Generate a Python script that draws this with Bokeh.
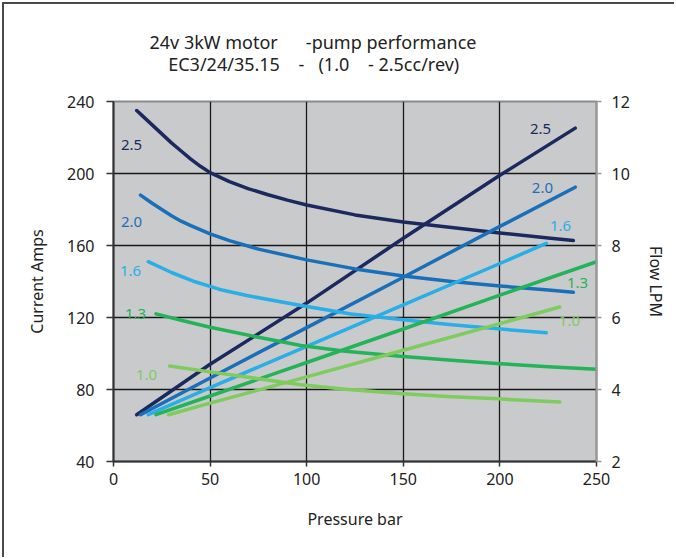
from bokeh.plotting import figure
from bokeh.models import Range1d, LinearAxis, FixedTicker, Label, Title
from bokeh.embed import file_html
from bokeh.resources import INLINE

FONT = "Noto Sans"

# ---- data ----
pressure_ticks = [0, 50, 100, 150, 200, 250]
amps_ticks = [40, 80, 120, 160, 200, 240]
flow_ticks = [2, 4, 6, 8, 10, 12]

# current draw (Amps) for each pump size
cur25_x = [12, 15, 20, 25, 30, 35, 40, 45, 50, 60, 70, 80, 90, 100, 125, 150, 175, 200, 225, 238]
cur25_y = [235, 232, 227, 222, 217, 212.5, 208, 204, 200.5, 195.5, 191.5, 188.2, 185.2, 182.5, 177, 173, 170, 167, 164.2, 162.8]
cur20_x = [14, 20, 25, 30, 35, 40, 50, 60, 75, 100, 125, 150, 175, 200, 225, 238]
cur20_y = [188, 183.5, 180, 176.5, 173.5, 171, 166.5, 162.7, 158, 152, 147, 143, 140, 137.5, 135.3, 134]
cur16_x = [18, 25, 30, 41, 55, 69, 97, 123, 150, 175, 199, 224]
cur16_y = [151, 147.5, 145, 140.3, 135.6, 132.2, 126.7, 122, 118.7, 116, 113.7, 111.5]
cur13_x = [22, 35, 50, 75, 97, 120, 150, 175, 200, 225, 250]
cur13_y = [122, 118.5, 114.6, 109, 104.4, 101.2, 98.3, 96.2, 94.3, 92.7, 91.3]
cur10_x = [29, 50, 75, 97, 120, 150, 175, 199, 231]
cur10_y = [93, 89.8, 86, 82.6, 80.2, 77.6, 76, 74.8, 73]

# flow (LPM) for each pump size
flow25_x = [12, 50, 100, 150, 200, 239]
flow25_y = [3.3, 4.7, 6.4, 8.2, 9.95, 11.26]
flow20_x = [14, 50, 100, 150, 200, 239]
flow20_y = [3.3, 4.32, 5.72, 7.12, 8.53, 9.62]
flow16_x = [18, 50, 100, 150, 200, 224]
flow16_y = [3.3, 4.05, 5.2, 6.35, 7.5, 8.06]
flow13_x = [22, 50, 100, 150, 200, 250]
flow13_y = [3.3, 3.82, 4.75, 5.68, 6.62, 7.55]
flow10_x = [28.5, 50, 100, 150, 200, 231]
flow10_y = [3.3, 3.62, 4.35, 5.09, 5.83, 6.29]

sizes = ["2.5", "2.0", "1.6", "1.3", "1.0"]
colors = ["#1b2a5e", "#1a70b8", "#29aee6", "#24b358", "#7ecb5e"]

# label positions (data coords, left/Amps scale)
lab_left_x = [9.3, 9.3, 8.8, 11.4, 17.1]
lab_left_y = [216, 173.3, 146.1, 121.7, 88.3]
lab_right_x = [221, 222, 231.4, 240.2, 236]
lab_right_y = [225, 191.7, 171.1, 138.9, 118.3]

NB = "\u00a0"
title1 = "24v 3kW motor" + NB * 5 + " -pump performance"
title2 = NB * 4 + "EC3/24/35.15" + NB * 3 + " -" + NB * 2 + " (1.0" + NB * 3 + " - 2.5cc/rev)"

# ---- figure ----
p = figure(width=672, height=555, output_backend="svg", toolbar_location=None,
           x_range=Range1d(0, 250), y_range=Range1d(40, 240),
           min_border_left=109, min_border_right=80,
           min_border_top=97, min_border_bottom=98)
p.styles = {"margin-left": "2px", "margin-top": "2px",
            "border-left": "2px solid #4a4a4a", "border-top": "2px solid #4a4a4a"}
p.background_fill_color = "#c9cacc"
p.border_fill_color = "white"
p.outline_line_color = "#8a8a8a"
p.outline_line_width = 2

p.extra_y_ranges = {"flow": Range1d(2, 12)}

# grid
p.xgrid.ticker = FixedTicker(ticks=[50, 100, 150, 200])
p.ygrid.ticker = FixedTicker(ticks=[80, 120, 160, 200])
for g in (p.xgrid, p.ygrid):
    g.grid_line_color = "#1a1a1a"
    g.grid_line_width = 1.3

# axes
p.xaxis.ticker = FixedTicker(ticks=pressure_ticks)
p.yaxis.ticker = FixedTicker(ticks=amps_ticks)
p.xaxis.axis_label = "Pressure bar"
p.yaxis.axis_label = "Current Amps"

right = LinearAxis(y_range_name="flow", ticker=FixedTicker(ticks=flow_ticks),
                   axis_label="Flow LPM")
p.add_layout(right, "right")

for ax in (p.xaxis[0], p.yaxis[0], right):
    ax.major_label_text_font = FONT
    ax.major_label_text_font_size = "16px"
    ax.major_label_text_color = "#222222"
    ax.axis_label_text_font = FONT
    ax.axis_label_text_font_size = "16px"
    ax.axis_label_text_font_style = "normal"
    ax.axis_label_text_color = "#222222"
    ax.minor_tick_line_color = None
    ax.major_tick_in = 0

p.xaxis.axis_line_color = "#333333"
p.xaxis.axis_line_width = 2
p.xaxis.major_tick_line_color = "#333333"
p.xaxis.major_tick_line_width = 1.5
p.xaxis.major_tick_out = 5
p.xaxis.major_label_standoff = 6
p.xaxis.axis_label_standoff = 20

p.yaxis.axis_line_color = "#333333"
p.yaxis.axis_line_width = 2
p.yaxis.major_tick_line_color = "#333333"
p.yaxis.major_tick_line_width = 1.5
p.yaxis.major_tick_out = 7
p.yaxis.major_label_standoff = 12
p.yaxis.axis_label_standoff = 16

right.axis_line_color = "#999999"
right.axis_line_width = 2
right.major_tick_line_color = "#999999"
right.major_tick_line_width = 1.5
right.major_tick_out = 5
right.major_label_standoff = 10
right.axis_label_standoff = 12

# curves
cur_x = [cur25_x, cur20_x, cur16_x, cur13_x, cur10_x]
cur_y = [cur25_y, cur20_y, cur16_y, cur13_y, cur10_y]
flow_x = [flow25_x, flow20_x, flow16_x, flow13_x, flow10_x]
flow_y = [flow25_y, flow20_y, flow16_y, flow13_y, flow10_y]

for cx, cy, fx, fy, c in zip(cur_x, cur_y, flow_x, flow_y, colors):
    p.line(cx, cy, line_color=c, line_width=3.5, line_cap="round", line_join="round")
    p.line(fx, fy, line_color=c, line_width=3.5, line_cap="round", line_join="round",
           y_range_name="flow")

for s, c, lx, ly, rx, ry in zip(sizes, colors, lab_left_x, lab_left_y, lab_right_x, lab_right_y):
    for x, y in ((lx, ly), (rx, ry)):
        p.add_layout(Label(x=x, y=y, text=s, text_color=c, text_font=FONT,
                           text_font_size="15px", text_align="center",
                           text_baseline="middle"))

# title (two lines)
p.add_layout(Title(text=title1 + "\n" + title2, align="left", offset=36, standoff=48,
                   vertical_align="top",
                   text_font=FONT, text_font_size="18px", text_font_style="normal",
                   text_color="#222222", text_line_height=0.92), "above")

open("out.html", "w").write(file_html(p, INLINE))
